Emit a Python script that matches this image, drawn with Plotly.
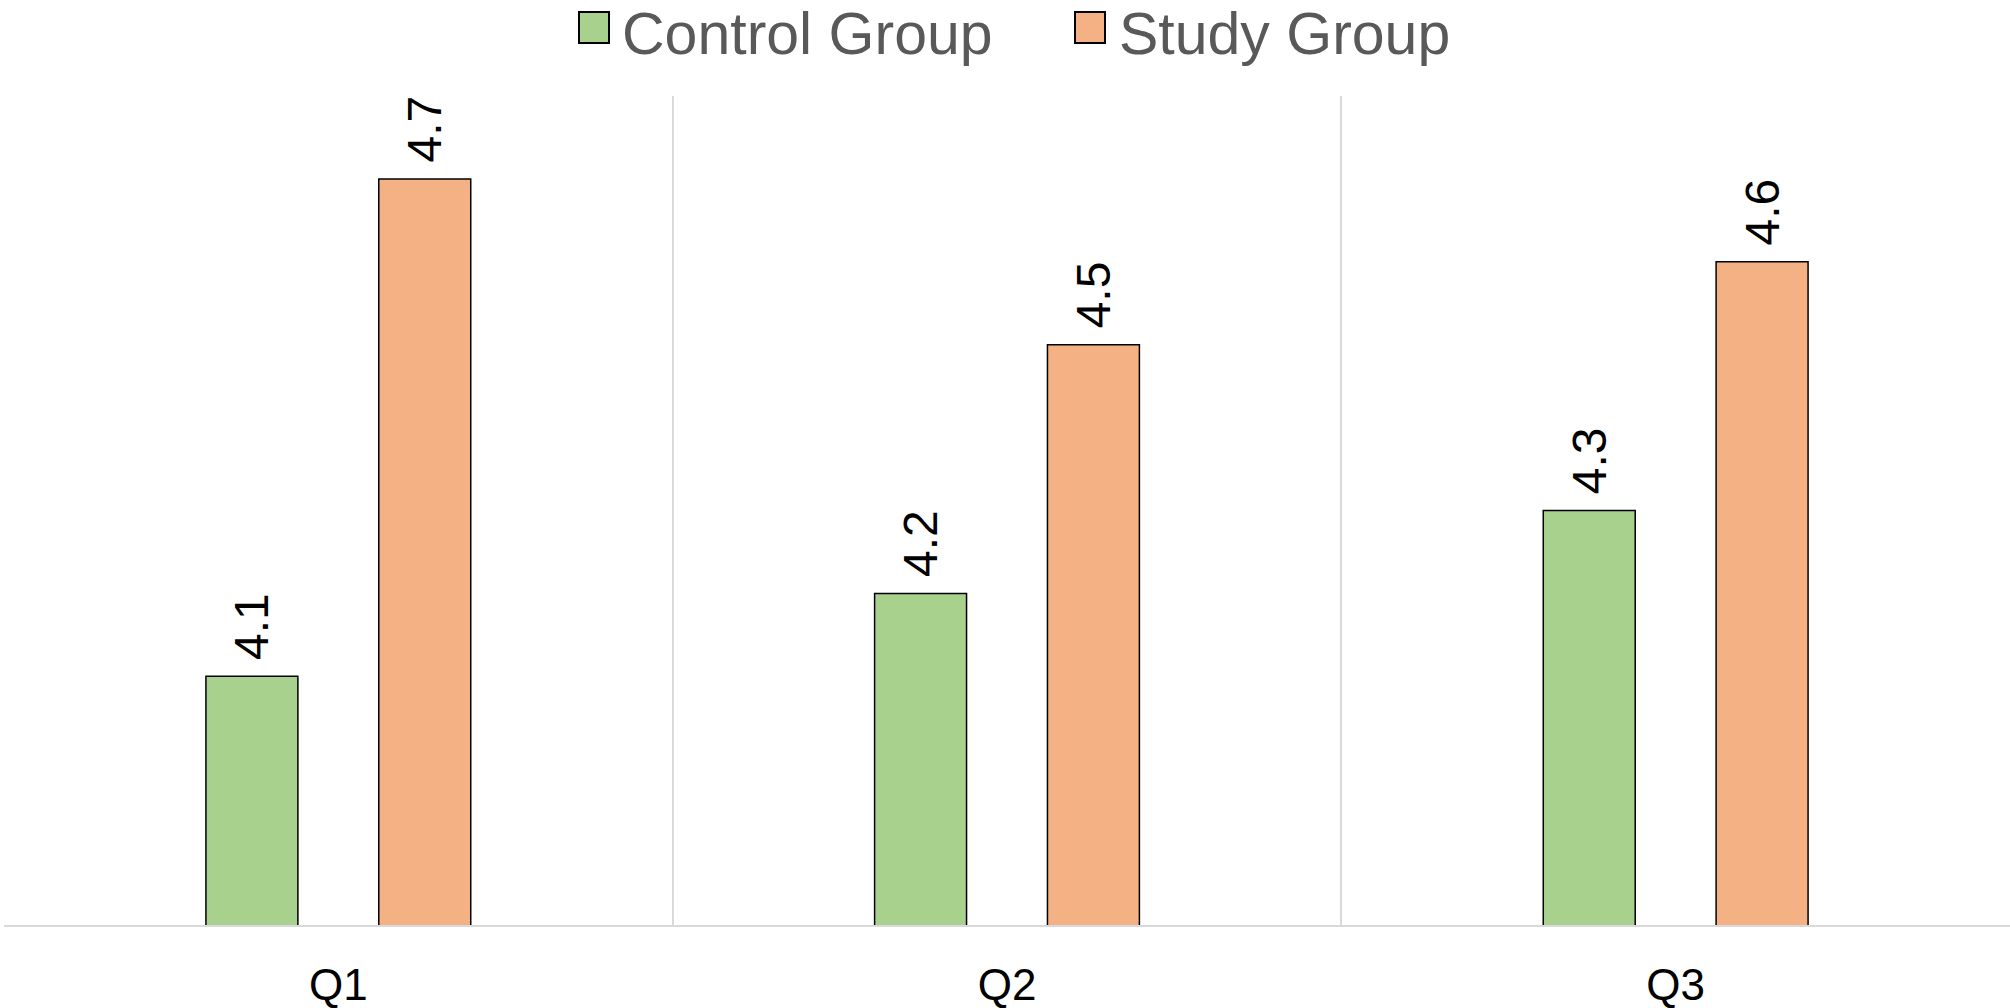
import plotly.graph_objects as go

# Survey questions and mean scores per group
questions = ["Q1", "Q2", "Q3"]
control_scores = [4.1, 4.2, 4.3]
study_scores = [4.7, 4.5, 4.6]
series_names = ["Control Group", "Study Group"]
series_colors = ["#A9D18E", "#F4B183"]

W, H = 2010, 1008
M_L, M_R, M_T, M_B = 4, 0, 96, 83
plot_w = W - M_L - M_R
plot_h = H - M_T - M_B
FONT = "Liberation Sans, Arial, sans-serif"

fig = go.Figure()
for name, vals, color in zip(series_names, [control_scores, study_scores], series_colors):
    fig.add_trace(go.Bar(
        name=name,
        x=questions,
        y=vals,
        marker=dict(color=color, line=dict(color="#000000", width=1.5)),
        # leading no-break space keeps the rotated value clear of the bar top
        text=[f"\u00a0{v:.1f}" for v in vals],
        textposition="outside",
        textangle=-90,
        constraintext="none",
        cliponaxis=False,
        textfont=dict(family=FONT, size=48, color="#000000"),
        showlegend=False,
    ))


def px_to_paper_x(px):
    return (px - M_L) / plot_w


def px_to_paper_y(py):
    return (H - M_B - py) / plot_h


# Legend drawn as square swatches with labels above the plot
legend_items = [
    (series_names[0], series_colors[0], 579, 621),
    (series_names[1], series_colors[1], 1075, 1118),
]
shapes = []
annotations = []
for name, color, sx, tx in legend_items:
    shapes.append(dict(
        type="rect", xref="paper", yref="paper",
        x0=px_to_paper_x(sx), x1=px_to_paper_x(sx + 30),
        y0=px_to_paper_y(43), y1=px_to_paper_y(12),
        fillcolor=color, line=dict(color="#000000", width=2),
    ))
    annotations.append(dict(
        text=name, xref="paper", yref="paper",
        x=px_to_paper_x(tx), y=px_to_paper_y(0),
        xanchor="left", yanchor="top", showarrow=False,
        borderpad=0,
        font=dict(family=FONT, size=59, color="#595959"),
    ))

fig.update_layout(
    width=W, height=H,
    margin=dict(l=M_L, r=M_R, t=M_T, b=M_B, pad=0, autoexpand=False),
    paper_bgcolor="#FFFFFF",
    plot_bgcolor="#FFFFFF",
    barmode="group",
    bargap=0.483,
    bargroupgap=0.468,
    showlegend=False,
    shapes=shapes,
    annotations=annotations,
    xaxis=dict(
        type="category",
        automargin=False,
        tickson="boundaries",
        showgrid=True,
        gridcolor="#D9D9D9",
        gridwidth=2,
        showline=True,
        linecolor="#D9D9D9",
        linewidth=2,
        ticks="",
        ticklabelstandoff=20,
        tickfont=dict(family=FONT, size=44, color="#000000"),
    ),
    yaxis=dict(
        range=[3.8, 4.8],
        automargin=False,
        showgrid=False,
        zeroline=False,
        showline=False,
        showticklabels=False,
        ticks="",
    ),
)

fig.write_html("out.html")
